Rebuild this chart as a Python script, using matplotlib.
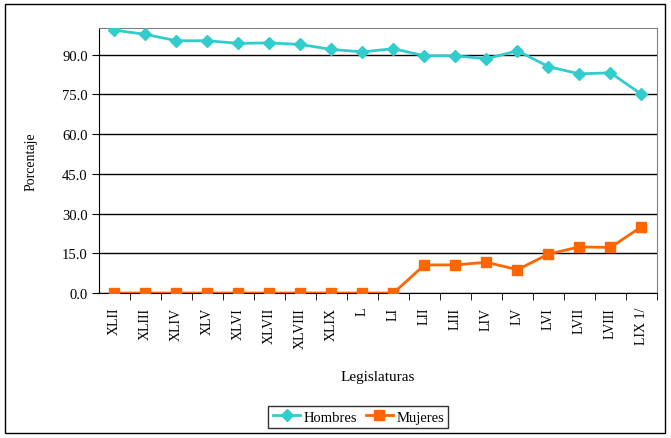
import matplotlib
matplotlib.use("Agg")
import matplotlib.pyplot as plt
from matplotlib.patches import Rectangle

plt.rcParams['font.family'] = ['Liberation Serif', 'DejaVu Serif']

legislaturas = ["XLII", "XLIII", "XLIV", "XLV", "XLVI", "XLVII", "XLVIII", "XLIX", "L", "LI",
                "LII", "LIII", "LIV", "LV", "LVI", "LVII", "LVIII", "LIX 1/"]
hombres = [99.2, 97.6, 95.2, 95.2, 94.2, 94.4, 93.8, 91.9, 91.0, 92.2,
           89.5, 89.5, 88.4, 91.4, 85.4, 82.7, 83.1, 75.0]
mujeres = [0.0, 0.0, 0.0, 0.0, 0.0, 0.0, 0.0, 0.0, 0.0, 0.0,
           10.6, 10.6, 11.6, 8.8, 14.7, 17.4, 17.2, 25.0]
yticks = [0, 15, 30, 45, 60, 75, 90]

fig = plt.figure(figsize=(6.71, 4.39), dpi=100)
ax = fig.add_axes([0.1475, 0.3303, 0.8316, 0.6036])

x = list(range(len(legislaturas)))
ax.plot(x, hombres, color="#33CCCC", lw=2, marker="D", ms=6.5, label="Hombres", zorder=3)
ax.plot(x, mujeres, color="#FF6600", lw=2, marker="s", ms=6.5, label="Mujeres", zorder=3)

ax.set_xlim(-0.5, len(legislaturas) - 0.5)
ax.set_ylim(0, 100)
ax.set_yticks(yticks)
ax.set_yticklabels(["%.1f" % v for v in yticks], fontsize=10.5)
ax.yaxis.grid(True, color="black", lw=1)
ax.set_axisbelow(True)

ax.set_xticks(x)
ax.set_xticklabels(legislaturas, rotation=90, fontsize=10, va="top")
ax.set_xticks([i + 0.5 for i in x], minor=True)
ax.tick_params(axis="x", which="major", length=0, pad=10)
ax.tick_params(axis="x", which="minor", length=5, direction="out", color="black")
ax.tick_params(axis="y", length=5, direction="out", color="black", pad=3)

for side in ["top", "right"]:
    ax.spines[side].set_color("#808080")
for side in ["left", "bottom"]:
    ax.spines[side].set_color("black")

ax.set_ylabel("Porcentaje", fontsize=10, labelpad=18)
ax.set_xlabel("Legislaturas", fontsize=11, labelpad=16)

leg = fig.legend(loc="center", bbox_to_anchor=(0.534, 0.048), ncol=2, fontsize=10.5,
                 frameon=True, fancybox=False, handlelength=1.9, columnspacing=0.6,
                 handletextpad=0.2, borderpad=0.3, borderaxespad=0)
leg.get_frame().set_edgecolor("black")
leg.get_frame().set_linewidth(1)

fig.patches.append(Rectangle((5 / 671, 1 - 434 / 439), 660 / 671, 429 / 439,
                             transform=fig.transFigure, fill=False, ec="black", lw=1))

fig.savefig("out.png", dpi=100)
